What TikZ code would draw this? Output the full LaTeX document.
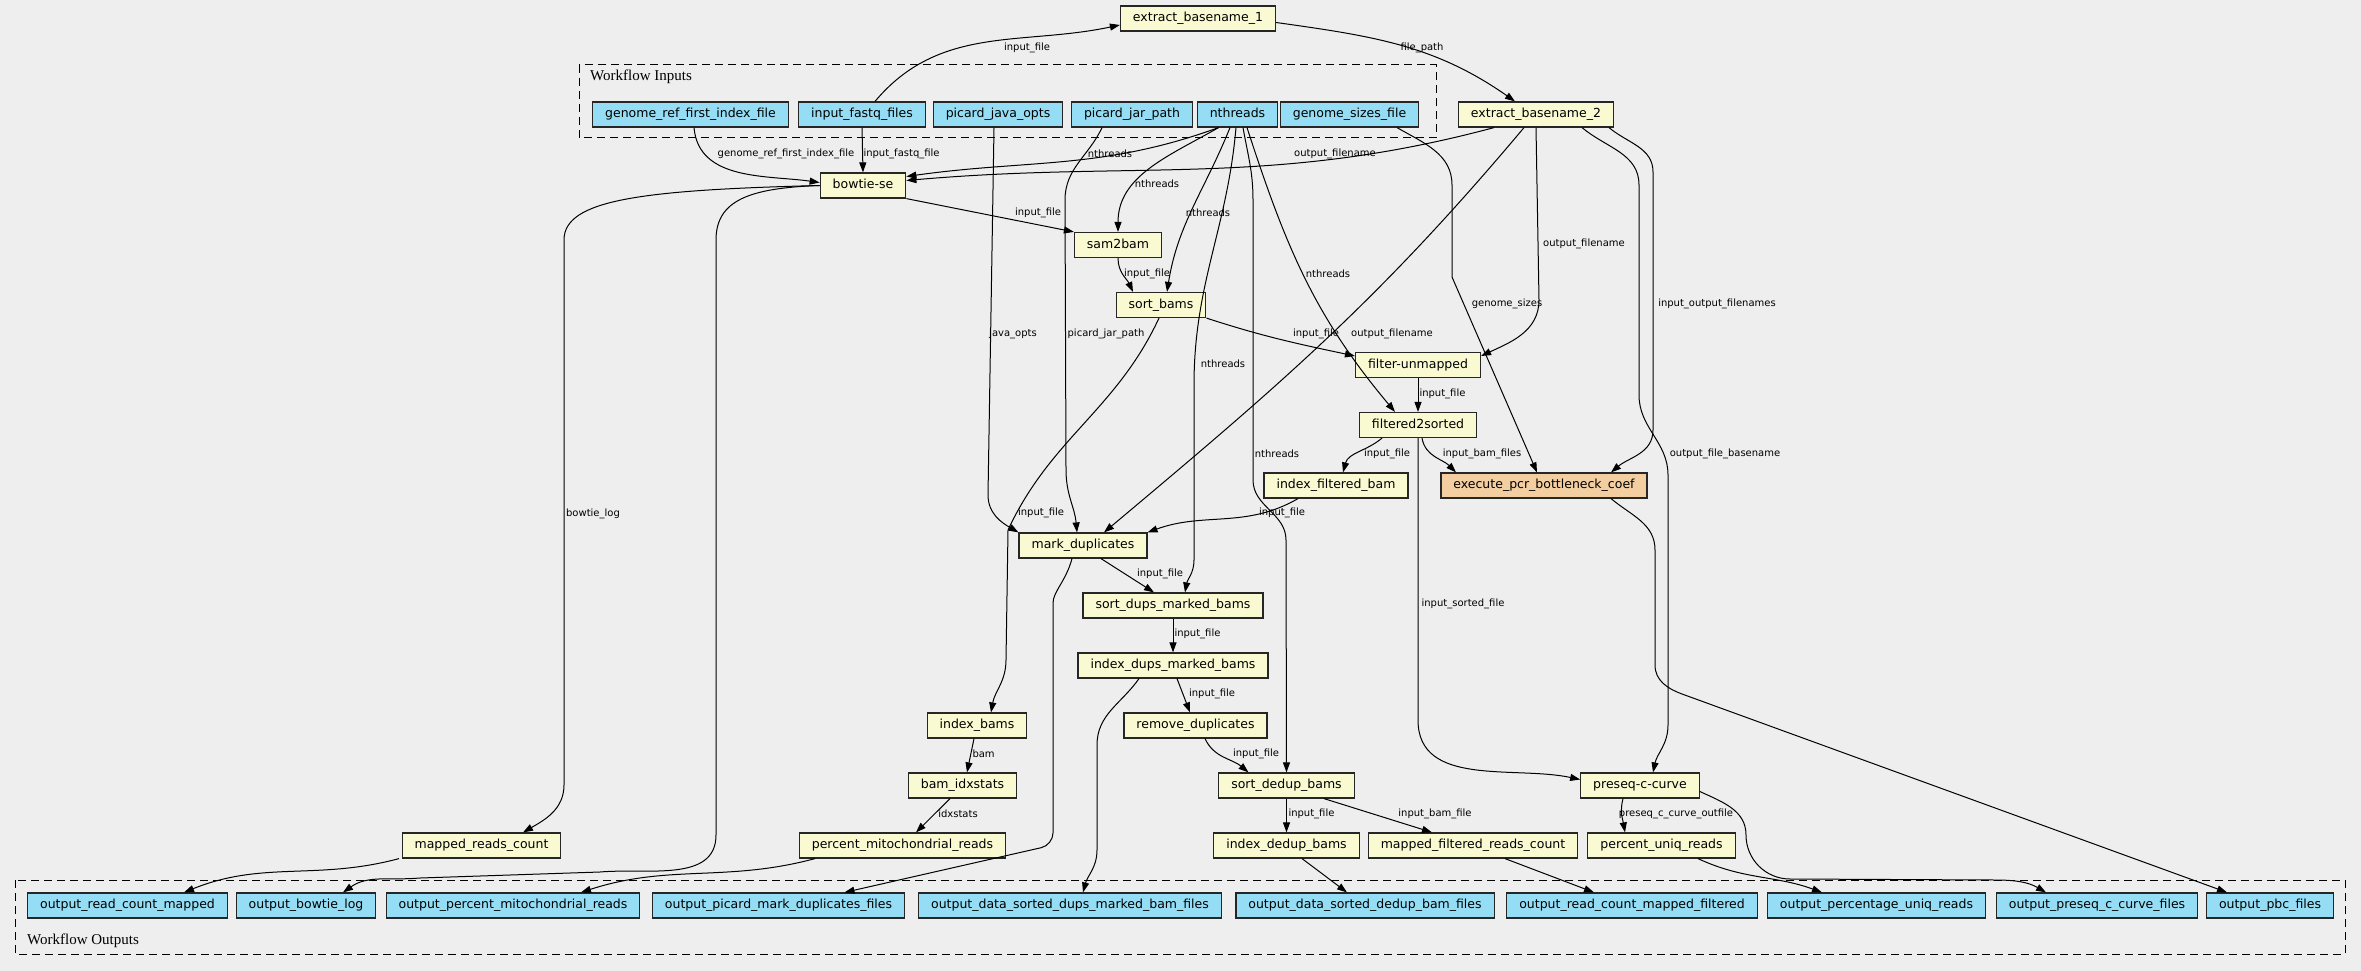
\documentclass[tikz,border=0pt]{standalone}
\usepackage{fontspec}
\setmainfont{DejaVu Sans}
\newfontfamily\clusterfont{Liberation Serif}
\usepackage{xcolor}
\usetikzlibrary{arrows.meta, positioning, backgrounds}

\definecolor{canvas}{HTML}{EEEEEE}
\definecolor{toolfill}{HTML}{FAFAD2}
\definecolor{iofill}{HTML}{94DDF4}
\definecolor{pcrfill}{HTML}{F3CEA1}

\begin{document}
\begin{tikzpicture}[
    x=1pt, y=-1pt,
    box/.style={rectangle, draw=black!85, line width=1.2pt, inner xsep=12.5pt, inner ysep=0pt, minimum height=25pt, text height=9.5pt, text depth=3pt, font=\fontsize{12.5}{15}\selectfont},
    tool/.style={box, fill=toolfill},
    io/.style={box, fill=iofill},
    lbl/.style={inner sep=0pt, font=\fontsize{10}{12}\selectfont},
    arrow/.style={line width=1pt,->,>={Triangle[length=10pt,width=7pt]}},
    cluster/.style={dash pattern=on 8pt off 5pt, line width=1pt}
]

\useasboundingbox (0,0) rectangle (2361,971);
\fill[canvas] (0,0) rectangle (2361,971);

% Workflow inputs
\draw[cluster] (579,65) rectangle (1436,138);
\node[anchor=west, inner sep=0pt, font=\clusterfont\fontsize{15}{18}\selectfont] (inlabel) at (590,77) {Workflow Inputs};
\node[io] (genref) at (690.5,114.5) {genome\_ref\_first\_index\_file};
\node[io] (inpfastq) at (862,114.5) {input\_fastq\_files};
\node[io] (pjo) at (998,114.5) {picard\_java\_opts};
\node[io] (pjp) at (1132,114.5) {picard\_jar\_path};
\node[io] (nthreads) at (1237.5,114.5) {nthreads};
\node[io] (gsf) at (1349.5,114.5) {genome\_sizes\_file};

% Steps
\node[tool] (ebase1) at (1198,18.5) {extract\_basename\_1};
\node[tool] (ebase2) at (1536,114.5) {extract\_basename\_2};
\node[tool] (bowtie) at (863,185.5) {bowtie-se};
\node[tool] (sam2bam) at (1118,245) {sam2bam};
\node[tool] (sortbams) at (1161,305) {sort\_bams};
\node[tool] (filtunm) at (1418,365) {filter-unmapped};
\node[tool] (filt2s) at (1418,425) {filtered2sorted};
\node[tool] (ifb) at (1336,485.5) {index\_filtered\_bam};
\node[box, fill=pcrfill] (pcr) at (1544,485.5) {execute\_pcr\_bottleneck\_coef};
\node[tool] (markdup) at (1083,545.5) {mark\_duplicates};
\node[tool] (sdmb) at (1173,605.5) {sort\_dups\_marked\_bams};
\node[tool] (idmb) at (1173,665.5) {index\_dups\_marked\_bams};
\node[tool] (idxbams) at (977,725.5) {index\_bams};
\node[tool] (remdup) at (1195.5,725.5) {remove\_duplicates};
\node[tool] (bamidx) at (962.5,785.5) {bam\_idxstats};
\node[tool] (sdb) at (1286.5,785.5) {sort\_dedup\_bams};
\node[tool] (preseq) at (1640,785.5) {preseq-c-curve};
\node[tool] (mrc) at (481.5,845.5) {mapped\_reads\_count};
\node[tool] (pmr) at (902.5,845.5) {percent\_mitochondrial\_reads};
\node[tool] (idb) at (1286.5,845.5) {index\_dedup\_bams};
\node[tool] (mfrc) at (1473,845.5) {mapped\_filtered\_reads\_count};
\node[tool] (pur) at (1661.5,845.5) {percent\_uniq\_reads};

% Workflow outputs
\draw[cluster] (15,880) rectangle (2345,954);
\node[anchor=west, inner sep=0pt, font=\clusterfont\fontsize{15}{18}\selectfont] (outlabel) at (27,941) {Workflow Outputs};
\node[io] (orcm) at (127.5,905.5) {output\_read\_count\_mapped};
\node[io] (obl) at (306,905.5) {output\_bowtie\_log};
\node[io] (opmr) at (513,905.5) {output\_percent\_mitochondrial\_reads};
\node[io] (opmd) at (778.5,905.5) {output\_picard\_mark\_duplicates\_files};
\node[io] (odsdm) at (1070,905.5) {output\_data\_sorted\_dups\_marked\_bam\_files};
\node[io] (odsdb) at (1365,905.5) {output\_data\_sorted\_dedup\_bam\_files};
\node[io] (orcmf) at (1632,905.5) {output\_read\_count\_mapped\_filtered};
\node[io] (opur) at (1876.5,905.5) {output\_percentage\_uniq\_reads};
\node[io] (opcf) at (2097,905.5) {output\_preseq\_c\_curve\_files};
\node[io] (opbc) at (2270,905.5) {output\_pbc\_files};

% Top part
\draw[arrow] ([xshift=13pt]inpfastq.north) to[out=50,in=192] ([yshift=-6.5pt]ebase1.west) node[lbl] at (1027,48) {input\_file};
\draw[arrow] ([yshift=-4pt]ebase1.east) to[out=-8,in=145] ([xshift=-21pt]ebase2.north) node[lbl] at (1422,48) {file\_path};
\draw[arrow] ([xshift=3.5pt]genref.south) to[out=-85,in=172] ([yshift=3pt]bowtie.west) node[lbl] at (786,154) {genome\_ref\_first\_index\_file};
\draw[arrow] (inpfastq.south) -- (bowtie.north) node[lbl, anchor=west] at (863,154) {input\_fastq\_file};
\draw[arrow] ([xshift=-19pt]nthreads.south) to[out=-160,in=8] ([yshift=9pt]bowtie.east) node[lbl] at (1110,154) {nthreads};
\draw[arrow] ([xshift=-42pt]ebase2.south) to[out=-165,in=5] ([yshift=5pt]bowtie.east) node[lbl] at (1335,154) {output\_filename};

% Alignment and sorting
\draw[arrow] (bowtie.south east) -- (sam2bam.north west) node[lbl] at (1038,213) {input\_file};
\draw[arrow] ([xshift=-19pt]nthreads.south) to[out=-150,in=90] (sam2bam.north) node[lbl] at (1157,184) {nthreads};
\draw[arrow] (sam2bam.south) to[out=-90,in=115] ([xshift=-28pt]sortbams.north) node[lbl] at (1147,274) {input\_file};
\draw[arrow] ([xshift=-7.5pt]nthreads.south) to[out=-112,in=81] ([xshift=6pt]sortbams.north) node[lbl] at (1208,213) {nthreads};
\draw[arrow] (sortbams.south east) to[out=-18,in=168] ([yshift=9pt]filtunm.west) node[lbl] at (1316,334) {input\_file};
\draw[arrow] (ebase2.south) -- (1539,300) to[out=-90,in=25] ([yshift=9pt]filtunm.east) node[lbl] at (1584,244) {output\_filename};
\draw[arrow] ([xshift=-12pt]ebase2.south) to[out=-130,in=40] ([xshift=21pt]markdup.north) node[lbl] at (1392,334) {output\_filename};
\draw[arrow] ([xshift=9.5pt]nthreads.south) to[out=-72,in=130] ([xshift=-23pt]filt2s.north) node[lbl] at (1328,274) {nthreads};
\draw[arrow] (filtunm.south) -- (filt2s.north) node[lbl, anchor=west] at (1419,394) {input\_file};
\draw[arrow] ([xshift=-36pt]filt2s.south) to[out=-140,in=75] ([xshift=7pt]ifb.north) node[lbl] at (1387,454) {input\_file};
\draw[arrow] ([xshift=4pt]filt2s.south) to[out=-80,in=135] ([xshift=-88pt]pcr.north) node[lbl] at (1482,454) {input\_bam\_files};
\draw[arrow] ([xshift=47.5pt]gsf.south) to[out=-30,in=90] (1452,185) -- (1452,277) -- ([xshift=-7pt]pcr.north) node[lbl] at (1507,304) {genome\_sizes};
\draw[arrow] ([xshift=73pt]ebase2.south) to[out=-40,in=90] (1653,172) -- (1653,430) to[out=-90,in=40] ([xshift=67pt]pcr.north) node[lbl] at (1717,304) {input\_output\_filenames};
\draw[arrow] ([xshift=46pt]ebase2.south) to[out=-40,in=90] (1639,185) -- (1639,395) to[out=-90,in=90] (1668,475) -- (1668,725) to[out=-90,in=78] ([xshift=13pt]preseq.north) node[lbl] at (1725,454) {output\_file\_basename};
\draw[arrow] (filt2s.south) -- (1418,720) to[out=-90,in=168] ([yshift=6pt]preseq.west) node[lbl] at (1463,604) {input\_sorted\_file};
\draw[arrow] ([xshift=67pt]pcr.south) to[out=-40,in=90] (1655,550) -- (1655,665) to[out=-90,in=160] (1682,694) -- ([xshift=-43pt]opbc.north);

% Duplicates
\draw[arrow] ([xshift=-4pt]pjo.south) -- (988,495) to[out=-90,in=150] (markdup.north west) node[lbl] at (1013,334) {java\_opts};
\draw[arrow] ([xshift=-30pt]pjp.south) to[out=-115,in=90] (1065,200) -- (1066,470) to[out=-90,in=95] ([xshift=-6pt]markdup.north) node[lbl] at (1106,334) {picard\_jar\_path};
\draw[arrow] ([xshift=-2pt]sortbams.south) to[out=-115,in=65] (1008,530) -- (1006,660) to[out=-90,in=80] ([xshift=14pt]idxbams.north) node[lbl] at (1041,513) {input\_file};
\draw[arrow] ([xshift=-38pt]ifb.south) to[out=-150,in=20] (markdup.north east) node[lbl] at (1282,513) {input\_file};
\draw[arrow] ([xshift=18pt]markdup.south) -- ([xshift=-19pt]sdmb.north) node[lbl] at (1160,574) {input\_file};
\draw[arrow] ([xshift=-1.5pt]nthreads.south) to[out=-95,in=90] (1194,385) -- (1194,560) to[out=-90,in=80] ([xshift=12pt]sdmb.north) node[lbl] at (1223,364) {nthreads};
\draw[arrow, rounded corners=12pt] ([xshift=-11pt]markdup.south) to[out=-105,in=90] (1053,615) -- (1053,845) -- ([xshift=66pt]opmd.north);
\draw[arrow] (sdmb.south) -- (idmb.north) node[lbl, anchor=west] at (1174,634) {input\_file};
\draw[arrow] ([xshift=4pt]idmb.south) -- ([xshift=-5.5pt]remdup.north) node[lbl] at (1212,694) {input\_file};
\draw[arrow] ([xshift=-34pt]idmb.south) to[out=-125,in=90] (1097,745) -- (1097,850) to[out=-90,in=75] ([xshift=13pt]odsdm.north);
\draw[arrow] ([xshift=9.5pt]remdup.south) to[out=-65,in=140] ([xshift=-38pt]sdb.north) node[lbl] at (1256,754) {input\_file};
\draw[arrow] ([xshift=5.5pt]nthreads.south) to[out=-80,in=90] (1253,200) -- (1253,480) to[out=-90,in=90] (1286,540) -- (sdb.north) node[lbl] at (1277,454) {nthreads};

% Bottom part
\draw[arrow] ([xshift=-3pt]idxbams.south) -- ([xshift=4.5pt]bamidx.north) node[lbl, anchor=west] at (972,754) {bam};
\draw[arrow] ([xshift=-12.5pt]bamidx.south) -- ([xshift=13.5pt]pmr.north) node[lbl] at (958,814) {idxstats};
\draw[arrow] (sdb.south) -- (idb.north) node[lbl, anchor=west] at (1288,814) {input\_file};
\draw[arrow] ([xshift=37.5pt]sdb.south) -- ([xshift=-41pt]mfrc.north) node[lbl] at (1435,814) {input\_bam\_file};
\draw[arrow] ([xshift=-17pt]preseq.south) to[out=-105,in=100] ([xshift=-36.5pt]pur.north) node[lbl] at (1676,814) {preseq\_c\_curve\_outfile};
\draw[arrow] (bowtie.west) .. controls (640,190) and (564,200) .. (564,240) -- (564,785) to[out=-90,in=30] ([xshift=41.5pt]mrc.north) node[lbl] at (593,514) {bowtie\_log};
\draw[arrow] (bowtie.west) .. controls (750,188) and (716,200) .. (716,240) -- (716,835) to[out=-90,in=5] (600,872) -- (420,878) to[out=185,in=35] ([xshift=37pt]obl.north);

% Into outputs
\draw[arrow] ([xshift=-82.5pt]mrc.south) to[out=-165,in=22] ([xshift=56.5pt]orcm.north);
\draw[arrow] ([xshift=-87.5pt]pmr.south) to[out=-165,in=18] ([xshift=68pt]opmr.north);
\draw[arrow] ([xshift=15.5pt]idb.south) -- ([xshift=-18pt]odsdb.north);
\draw[arrow] ([xshift=32pt]mfrc.south) -- ([xshift=-38pt]orcmf.north);
\draw[arrow] ([xshift=36.5pt]pur.south) to[out=-25,in=160] ([xshift=-54.5pt]opur.north);
\draw[arrow] ([yshift=-6pt]preseq.east) to[out=-25,in=90] (1746,835) to[out=-90,in=180] (1790,879) -- (1995,880) to[out=0,in=150] ([xshift=-51pt]opcf.north);

\end{tikzpicture}
\end{document}
